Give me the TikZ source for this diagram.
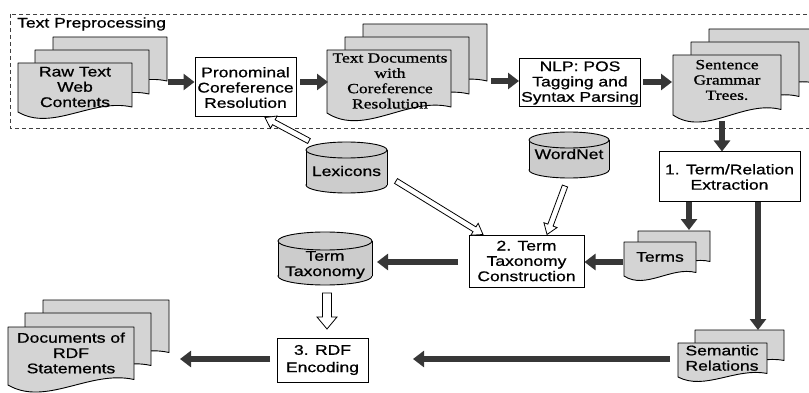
\documentclass[tikz,border=0pt]{standalone}
\usepackage{fontspec}
\setmainfont{Liberation Serif}[FakeStretch=1.25, FakeBold=0.8]
\setsansfont{Liberation Sans}[FakeStretch=1.25, FakeBold=0.8]
\usetikzlibrary{arrows.meta,calc}
\definecolor{pagegray}{RGB}{212,212,212}
\definecolor{cylgray}{RGB}{204,204,204}
\definecolor{arrgray}{RGB}{55,55,55}
\tikzset{
  lbl/.style={font=\sffamily\fontsize{14}{15.3}\selectfont, align=center, inner sep=0pt},
  slbl/.style={font=\rmfamily\fontsize{14}{15.3}\selectfont, align=center, inner sep=0pt},
  procbox/.style={draw, line width=1pt, fill=white, font=\sffamily\fontsize{14}{15.3}\selectfont, align=center, inner sep=0pt},
  page/.style={draw, line width=0.9pt, fill=pagegray, line join=round},
  cylst/.style={draw, line width=0.9pt, fill=cylgray},
  blk/.style={line width=5.5pt, draw=arrgray, -{Triangle[length=11pt,width=16pt]}},
  hol/.style={draw=black, fill=white, line width=0.8pt, line join=miter},
  framebox/.style={draw=black!75, line width=0.9pt, dash pattern=on 4pt off 3pt}
}
% page of a document stack: x0, y0, width, height, wave amplitude
\newcommand\docpg[5]{\filldraw[page] (#1,#2) -- ({#1+#3},#2) -- ({#1+#3},{#2+#4-0.25*#5})
  .. controls ({#1+0.65*#3},{#2+#4-0.7*#5}) and ({#1+0.3*#3},{#2+#4+#5}) .. (#1,{#2+#4}) -- cycle;}
% cylinder: x0, top, x1, bottom, ry
\newcommand\cyl[5]{%
  \fill[cylgray] (#1,{#2+#5}) rectangle (#3,{#4-#5});
  \filldraw[cylst] ({(#1+#3)/2},{#4-#5}) ellipse [x radius={(#3-#1)/2}, y radius=#5];
  \fill[cylgray] (#1,{#2+#5}) rectangle (#3,{#4-#5});
  \draw[line width=0.9pt] (#1,{#2+#5}) -- (#1,{#4-#5}) (#3,{#2+#5}) -- (#3,{#4-#5});
  \filldraw[cylst] ({(#1+#3)/2},{#2+#5}) ellipse [x radius={(#3-#1)/2}, y radius=#5];}
% hollow block arrow: start, end, helper name, half shaft, half head, head length
\newcommand\hollow[6]{%
  \coordinate (#3) at ($(#2)!#6!(#1)$);
  \filldraw[hol] ($(#1)!#4!90:(#2)$) -- ($(#3)!#4!90:(#2)$) -- ($(#3)!#5!90:(#2)$) -- (#2)
    -- ($(#3)!#5!-90:(#2)$) -- ($(#3)!#4!-90:(#2)$) -- ($(#1)!#4!-90:(#2)$) -- cycle;}
\begin{document}
\begin{tikzpicture}[x=1pt,y=-1pt]
\useasboundingbox (0,0) rectangle (809,393);
\clip (0,0) rectangle (809,393);

% Text preprocessing frame
\draw[framebox] (10,14) rectangle (830,128);
\node[lbl, anchor=west] (tp) at (17,24) {Text Preprocessing};

% Raw text documents
\docpg{53}{37}{114}{49}{20}
\docpg{35}{50}{114}{49}{20}
\docpg{18}{63}{114}{49}{20}
\node[lbl] (raw) at (75,87) {Raw Text\\Web\\Contents};

% Pronominal coreference box
\node[procbox, minimum width=101pt, minimum height=59pt] (pron) at (245.5,87.5) {Pronominal\\Coreference\\Resolution};

% Text documents with coreference
\docpg{363}{24}{124}{63}{24}
\docpg{345}{37}{124}{63}{24}
\docpg{327}{50}{124}{63}{24}
\node[slbl] (tdoc) at (390,81) {Text Documents\\with\\Coreference\\Resolution};

% NLP box
\node[procbox, minimum width=121pt, minimum height=48pt] (nlp) at (580,83) {NLP: POS\\Tagging and\\Syntax Parsing};

% Sentence grammar trees
\docpg{709}{29}{108}{60}{22}
\docpg{691}{42}{108}{60}{22}
\docpg{673}{55}{108}{60}{22}
\node[slbl] (sent) at (727,80) {Sentence\\Grammar\\Trees.};

% Cylinders
\cyl{306}{142}{387}{193}{8}
\node[lbl] (lex) at (346.5,171) {Lexicons};
\cyl{529}{132}{609}{178}{8}
\node[lbl] (wn) at (569,154) {WordNet};
\cyl{278}{232}{372}{285}{9}
\node[lbl] (ttax) at (325,265) {Term\\Taxonomy};

% Process boxes lower part
\node[procbox, minimum width=141pt, minimum height=50pt] (trel) at (729.5,177) {1. Term/Relation\\Extraction};
\node[procbox, minimum width=115pt, minimum height=52pt] (tax2) at (526.5,261) {2. Term\\Taxonomy\\Construction};
\node[procbox, minimum width=91pt, minimum height=44pt] (rdf) at (322.5,360) {3. RDF\\[2pt]Encoding};

% Terms
\docpg{638}{231}{72}{34}{14}
\docpg{624}{242}{72}{34}{14}
\node[lbl] (terms) at (660,257) {Terms};

% Semantic relations
\docpg{695}{330}{89}{34}{14}
\docpg{678}{343}{89}{34}{14}
\node[lbl] (sem) at (722,358) {Semantic\\Relations};

% Documents of RDF statements
\docpg{43}{300}{126}{58}{22}
\docpg{25}{313}{126}{58}{22}
\docpg{8}{327}{126}{58}{22}
\node[lbl] (rdfdoc) at (71,353) {Documents of\\RDF\\Statements};

% connector end points
\coordinate (rawout) at (168,82);
\coordinate (pronout) at (300,82);
\coordinate (tdocin) at (328,82);
\coordinate (tdocout) at (491,81);
\coordinate (nlpout) at (643,82);
\coordinate (sentin) at (672,82);
\coordinate (sentout) at (722,121);
\coordinate (termsin) at (689,230);
\coordinate (semin) at (758,330);
\coordinate (termsout) at (623,262);
\coordinate (tax2out) at (458,262);
\coordinate (ttaxin) at (377,262);
\coordinate (semout) at (670,359);
\coordinate (semtip) at (413,359);
\coordinate (rdfout) at (270,359);
\coordinate (rdfdocin) at (180,359);
\coordinate (lexa) at (309,141);
\coordinate (lexb) at (396,181);
\coordinate (wnout) at (565,186);
\coordinate (ttaxout) at (327,293);
\coordinate (rdfin) at (327,329);

% dark block arrows
\draw[blk] (rawout) -- (rawout -| pron.west);
\draw[blk] (pronout) -- (tdocin);
\draw[blk] (tdocout) -- (tdocout -| nlp.west);
\draw[blk] (nlpout) -- (sentin);
\draw[blk] (sentout) -- (sentout |- trel.north);
\draw[blk] (termsin |- trel.south) -- (termsin);
\draw[blk] (semin |- trel.south) -- (semin);
\draw[blk] (termsout) -- (termsout -| tax2.east);
\draw[blk] (tax2out) -- (ttaxin);
\draw[blk] (semout) -- (semtip);
\draw[blk] (rdfout) -- (rdfdocin);

% hollow arrows
\hollow{lexa}{[xshift=19.5pt]pron.south}{h1}{2.8pt}{7pt}{10pt}
\hollow{lexb}{[xshift=-43.5pt]tax2.north}{h2}{2.8pt}{7pt}{10pt}
\hollow{wnout}{[xshift=20.5pt]tax2.north}{h3}{2.8pt}{7pt}{10pt}
\hollow{ttaxout}{rdfin}{h4}{4.5pt}{10pt}{12pt}
\end{tikzpicture}
\end{document}
